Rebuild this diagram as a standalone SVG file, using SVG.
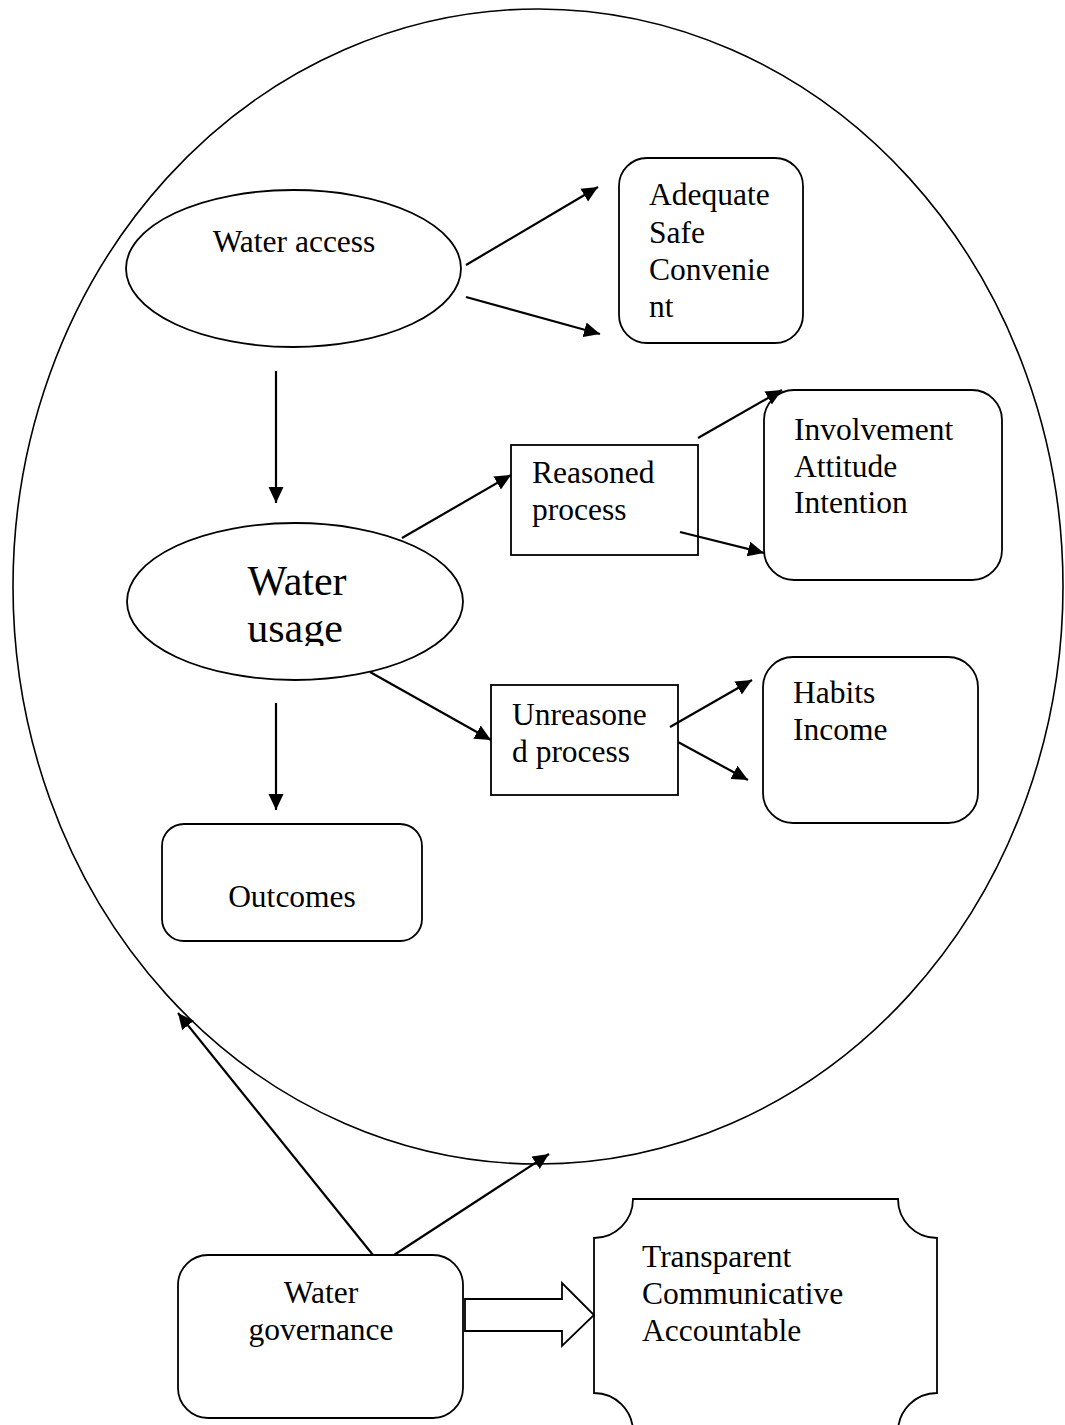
<svg xmlns="http://www.w3.org/2000/svg" width="1065" height="1425" viewBox="0 0 1065 1425">
<style>
.t{font-family:"Liberation Serif","Times New Roman",serif;font-size:31.5px;fill:#000}
.big{font-size:42px}
.s{fill:none;stroke:#000;stroke-width:1.6}
.n{fill:#fff;stroke:#000;stroke-width:1.8}
.c{fill:none;stroke:#000;stroke-width:2.2}
</style>
<defs>
<marker id="ah" markerUnits="userSpaceOnUse" markerWidth="16" markerHeight="16" viewBox="0 0 16 16" refX="16" refY="8" orient="auto">
<path d="M0,0.5 L16,8 L0,15.5 Z" fill="#000"/>
</marker>
<clipPath id="clipU"><rect x="120" y="520" width="360" height="126"/></clipPath>
</defs>
<rect width="1065" height="1425" fill="#fff"/>
<g id="boundary"><ellipse class="s" cx="538" cy="586.5" rx="525" ry="577.5"/></g>
<g id="water-access">
<ellipse class="n" cx="293.5" cy="268.5" rx="167.5" ry="78.5"/>
<text class="t" x="294" y="252" text-anchor="middle">Water access</text>
</g>
<g id="adequate">
<rect class="n" x="619" y="158" width="184" height="185" rx="28"/>
<text class="t" x="649" y="205">Adequate</text>
<text class="t" x="649" y="243">Safe</text>
<text class="t" x="649" y="280">Convenie</text>
<text class="t" x="649" y="317">nt</text>
</g>
<g id="water-usage">
<ellipse class="n" cx="295" cy="601.5" rx="168" ry="78.5"/>
<g clip-path="url(#clipU)">
<text class="t big" x="297" y="595" text-anchor="middle">Water</text>
<text class="t big" x="295" y="642" text-anchor="middle">usage</text>
</g>
</g>
<g id="reasoned">
<rect class="n" x="511" y="445" width="187" height="110"/>
<text class="t" x="532" y="483">Reasoned</text>
<text class="t" x="532" y="520">process</text>
</g>
<g id="involvement">
<rect class="n" x="764" y="390" width="238" height="190" rx="30"/>
<text class="t" x="794" y="440">Involvement</text>
<text class="t" x="794" y="477">Attitude</text>
<text class="t" x="794" y="513">Intention</text>
</g>
<g id="unreasoned">
<rect class="n" x="491" y="685" width="187" height="110"/>
<text class="t" x="512" y="725">Unreasone</text>
<text class="t" x="512" y="762">d process</text>
</g>
<g id="habits">
<rect class="n" x="763" y="657" width="215" height="166" rx="30"/>
<text class="t" x="793" y="703">Habits</text>
<text class="t" x="793" y="740">Income</text>
</g>
<g id="outcomes">
<rect class="n" x="162" y="824" width="260" height="117" rx="22"/>
<text class="t" x="292" y="907" text-anchor="middle">Outcomes</text>
</g>
<g id="water-governance">
<rect class="n" x="178" y="1255" width="285" height="163" rx="30"/>
<text class="t" x="321" y="1303" text-anchor="middle">Water</text>
<text class="t" x="321" y="1340" text-anchor="middle">governance</text>
</g>
<g id="attributes">
<path class="n" d="M633,1199 L898,1199 A39,39 0 0 0 937,1238 L937,1393 A39,39 0 0 0 898,1432 L633,1432 A39,39 0 0 0 594,1393 L594,1238 A39,39 0 0 0 633,1199 Z"/>
<text class="t" x="642" y="1267">Transparent</text>
<text class="t" x="642" y="1304">Communicative</text>
<text class="t" x="642" y="1341">Accountable</text>
</g>
<g id="connectors">
<line class="c" x1="466" y1="265" x2="598" y2="187" marker-end="url(#ah)"/>
<line class="c" x1="466" y1="297" x2="600" y2="334" marker-end="url(#ah)"/>
<line class="c" x1="276" y1="371" x2="276" y2="503" marker-end="url(#ah)"/>
<line class="c" x1="402" y1="538" x2="511" y2="475" marker-end="url(#ah)"/>
<line class="c" x1="698" y1="438" x2="782" y2="390" marker-end="url(#ah)"/>
<line class="c" x1="680" y1="532" x2="764" y2="553" marker-end="url(#ah)"/>
<line class="c" x1="370" y1="672" x2="491" y2="740" marker-end="url(#ah)"/>
<line class="c" x1="670" y1="727" x2="752" y2="680" marker-end="url(#ah)"/>
<line class="c" x1="678" y1="742" x2="748" y2="780" marker-end="url(#ah)"/>
<line class="c" x1="276" y1="703" x2="276" y2="810" marker-end="url(#ah)"/>
<line class="c" x1="373" y1="1255" x2="178" y2="1013" marker-end="url(#ah)"/>
<line class="c" x1="394" y1="1255" x2="549" y2="1154" marker-end="url(#ah)"/>
<polygon class="n" points="465,1299 562,1299 562,1283 594,1315 562,1346 562,1331 465,1331"/>
</g>
</svg>
